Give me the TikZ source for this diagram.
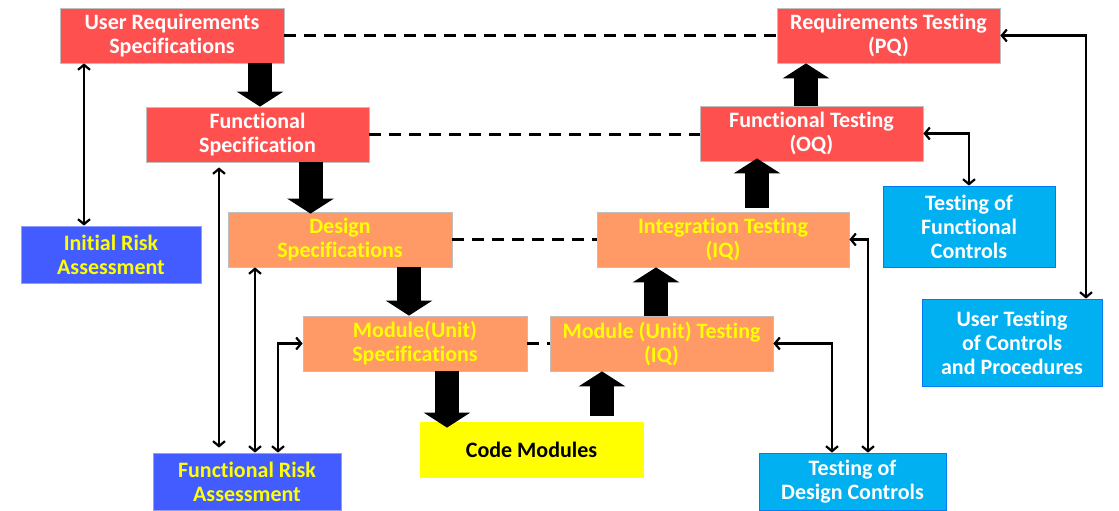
\documentclass[tikz,border=0pt]{standalone}
\usepackage{fontspec}
\setmainfont{Carlito}[Ligatures=NoCommon]
\definecolor{specred}{RGB}{255,80,80}
\definecolor{specorange}{RGB}{255,153,102}
\definecolor{riskblue}{RGB}{66,92,255}
\definecolor{testcyan}{RGB}{0,176,240}
\definecolor{codeyellow}{RGB}{255,255,0}
\usepackage{tikz}
\usetikzlibrary{arrows.meta,calc}
\tikzset{
  box/.style={rectangle,draw=black!25,line width=0.8pt,
              minimum width=#1,minimum height=55pt,inner sep=0pt,
              align=center,font=\fontsize{22}{24}\selectfont\bfseries},
  box/.default=224pt,
  redbox/.style={box=#1,fill=specred,text=white},
  redbox/.default=224pt,
  orangebox/.style={box=#1,fill=specorange,text=codeyellow},
  orangebox/.default=224pt,
  riskbox/.style={box=#1,fill=riskblue,draw=riskblue!60,minimum height=57pt,
                  text=codeyellow},
  testbox/.style={box=#1,fill=testcyan,draw=testcyan!70!blue,text=white},
  bigarrow/.style={line width=24pt,black,
                   -{Triangle[length=15pt,width=46pt]}},
  link/.style={<->,>={Straight Barb[length=5pt,width=12pt]},line width=2.2pt},
  match/.style={line width=2.6pt,dash pattern=on 12pt off 8pt},
}

\begin{document}
\begin{tikzpicture}[x=1pt,y=-1pt]
    \useasboundingbox (0,0) rectangle (1119,511);

    % Specification leg
    \node[redbox] (urs) at (172,35.5) {User Requirements\\Specifications};
    \node[redbox=223pt] (fs) at (257.5,134.5) {Functional\\Specification};
    \node[orangebox] (ds) at (340,239.5) {Design\\Specifications};
    \node[orangebox] (mus) at (415,343.5) {Module(Unit)\\Specifications};

    % Code
    \node[box=223pt,fill=codeyellow,draw=codeyellow,text=black] (code)
        at (531.5,449.5) {Code Modules};

    % Testing leg
    \node[orangebox=223pt] (mut) at (661.5,343.5) {Module (Unit) Testing\\(IQ)};
    \node[orangebox=252pt] (it) at (723,239.5) {Integration Testing\\(IQ)};
    \node[redbox=223pt] (ft) at (811.5,133.5) {Functional Testing\\(OQ)};
    \node[redbox=223pt] (rt) at (888.5,35.5) {Requirements Testing\\(PQ)};

    % Risk assessments
    \node[riskbox=180pt] (ira) at (111,254.5) {Initial Risk\\Assessment};
    \node[riskbox=188pt] (fra) at (247,481.5) {Functional Risk\\Assessment};

    % Control testing
    \node[testbox=172pt,minimum height=81pt] (tfc) at (969,226.5)
        {Testing of\\Functional\\Controls};
    \node[testbox=180pt,minimum height=87pt] (utcp) at (1012,342.5)
        {User Testing\\of Controls\\and Procedures};
    \node[testbox=187pt,minimum height=57pt] (tdc) at (852.5,481.5)
        {Testing of\\Design Controls};

    % level matching
    \draw[match] (urs.east) -- (rt.west);
    \draw[match] (fs.east) -- (fs.east -| ft.west);
    \draw[match] (ds.east) -- (it.west);
    \draw[match] (mus.east) -- (mut.west);

    % big arrows
    \draw[bigarrow] ([xshift=88pt]urs.south) -- ([xshift=88pt]urs.south |- fs.north);
    \draw[bigarrow] ([xshift=53pt]fs.south) -- ([xshift=53pt,yshift=-2pt]fs.south |- ds.north);
    \draw[bigarrow] ([xshift=-6pt]mus.north |- ds.south) -- ([xshift=-6pt]mus.north);
    \draw[bigarrow] ([xshift=32pt]mus.south) -- ([xshift=32pt,yshift=-6pt]mus.south |- code.north);
    \draw[bigarrow] ([xshift=70.5pt,yshift=6pt]code.north) -- ([xshift=70.5pt]code.north |- mut.south);
    \draw[bigarrow] ([xshift=-5.5pt]mut.north) -- ([xshift=-5.5pt]mut.north |- it.south);
    \draw[bigarrow] ([xshift=34pt,yshift=4pt]it.north) -- ([xshift=34pt,yshift=3pt]it.north |- ft.south);
    \draw[bigarrow] ([xshift=-5.5pt]ft.north) -- ([xshift=-5.5pt]ft.north |- rt.south);

    % risk links
    \draw[link] ([xshift=-27pt]ira.north) -- ([xshift=-27pt]ira.north |- urs.south);
    \draw[link,shorten <=5pt,shorten >=5pt] ([xshift=-28pt]fra.north)
        -- ([xshift=-28pt]fra.north |- fs.south);
    \draw[link] ([xshift=8pt]fra.north) -- ([xshift=8pt]fra.north |- ds.south);
    \draw[link] ([xshift=31pt]fra.north) |- (mus.west);

    % control testing links
    \draw[link] (ft.east) -| (tfc.north);
    \draw[link] (rt.east) -| ([xshift=74pt]utcp.north);
    \draw[link] (it.east) -| ([xshift=15.5pt]tdc.north);
    \draw[link] (mut.east) -| ([xshift=-20.5pt]tdc.north);

\end{tikzpicture}
\end{document}
